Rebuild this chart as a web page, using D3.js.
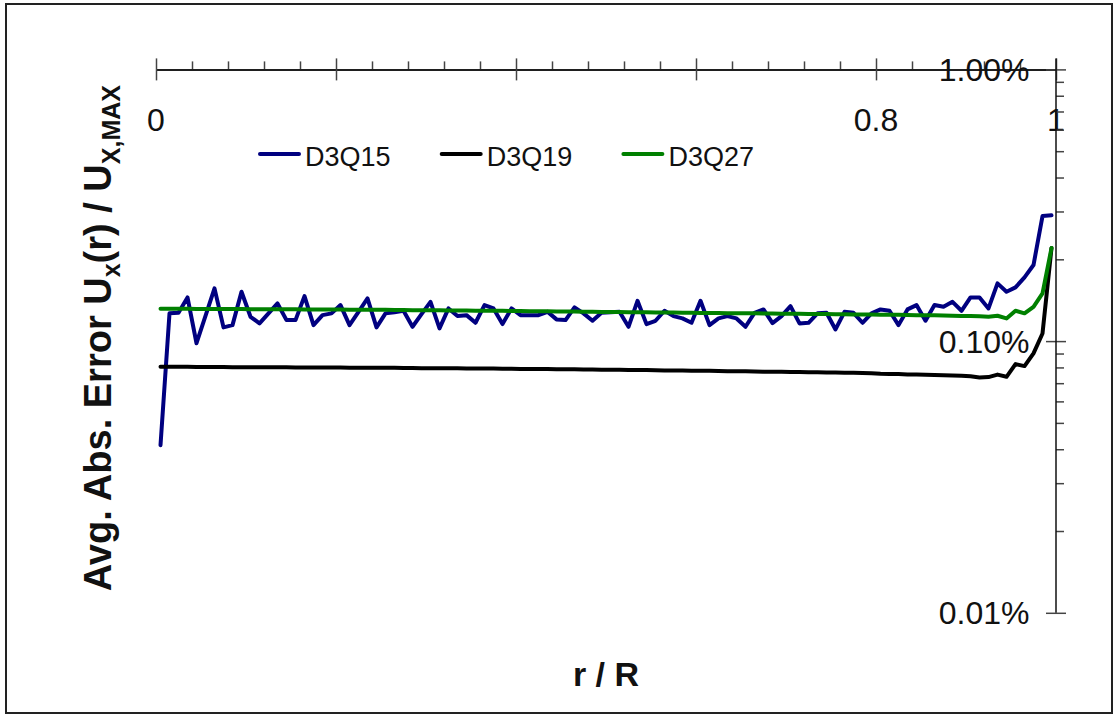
<!DOCTYPE html>
<html>
<head>
<meta charset="utf-8">
<script src="https://cdn.jsdelivr.net/npm/d3@7"></script>
<style>
  body { margin: 0; background: #fff; }
  svg text { font-family: "Liberation Sans", Arial, Helvetica, sans-serif; fill: #111; }
</style>
</head>
<body>
<div id="chart"></div>
<script>
// error in percent of U_x,max, sampled at r/R = (i + 0.5) / 100
var seriesNames = ["D3Q15", "D3Q19", "D3Q27"];
var seriesColors = ["#000080", "#000000", "#008000"];

var d3q15 = [
  0.0414, 0.1265, 0.1271, 0.1448, 0.0982, 0.1238, 0.1563, 0.1123, 0.1145, 0.1519,
  0.1229, 0.1162, 0.1265, 0.1376, 0.1195, 0.1195, 0.1464, 0.1145, 0.1246, 0.1265,
  0.1357, 0.1145, 0.1282, 0.1436, 0.1123, 0.1265, 0.1278, 0.1293, 0.1129, 0.1257,
  0.1395, 0.1114, 0.1319, 0.1236, 0.1246, 0.1168, 0.1357, 0.1319, 0.1155, 0.1319,
  0.1246, 0.1246, 0.1246, 0.1282, 0.1202, 0.1195, 0.1330, 0.1265, 0.1188, 0.1271,
  0.1278, 0.1282, 0.1129, 0.1407, 0.1155, 0.1188, 0.1293, 0.1236, 0.1212, 0.1168,
  0.1407, 0.1145, 0.1212, 0.1236, 0.1212, 0.1129, 0.1271, 0.1308, 0.1165, 0.1236,
  0.1345, 0.1162, 0.1168, 0.1265, 0.1271, 0.1104, 0.1282, 0.1271, 0.1168, 0.1265,
  0.1308, 0.1293, 0.1145, 0.1308, 0.1357, 0.1188, 0.1357, 0.1337, 0.1395, 0.1293,
  0.1448, 0.1448, 0.1319, 0.1631, 0.1519, 0.1576, 0.1716, 0.1905, 0.2886, 0.2903
];

var d3q19 = [
  0.0804, 0.0804, 0.0804, 0.0804, 0.0803, 0.0803, 0.0803, 0.0803, 0.0802, 0.0802,
  0.0802, 0.0802, 0.0801, 0.0801, 0.0801, 0.0800, 0.0800, 0.0800, 0.0799, 0.0799,
  0.0799, 0.0798, 0.0798, 0.0798, 0.0797, 0.0797, 0.0797, 0.0796, 0.0796, 0.0795,
  0.0795, 0.0795, 0.0794, 0.0794, 0.0793, 0.0793, 0.0792, 0.0792, 0.0791, 0.0791,
  0.0790, 0.0790, 0.0789, 0.0789, 0.0788, 0.0787, 0.0787, 0.0786, 0.0786, 0.0785,
  0.0784, 0.0784, 0.0783, 0.0782, 0.0782, 0.0781, 0.0780, 0.0780, 0.0779, 0.0778,
  0.0778, 0.0777, 0.0776, 0.0775, 0.0775, 0.0774, 0.0773, 0.0772, 0.0772, 0.0771,
  0.0770, 0.0769, 0.0768, 0.0768, 0.0767, 0.0766, 0.0765, 0.0764, 0.0763, 0.0762,
  0.0758, 0.0757, 0.0756, 0.0754, 0.0753, 0.0752, 0.0750, 0.0749, 0.0747, 0.0746,
  0.0742, 0.0735, 0.0737, 0.0753, 0.0739, 0.0823, 0.0809, 0.0901, 0.1067, 0.2200
];

var d3q27 = [
  0.1316, 0.1316, 0.1315, 0.1315, 0.1314, 0.1314, 0.1313, 0.1313, 0.1312, 0.1312,
  0.1311, 0.1311, 0.1310, 0.1310, 0.1309, 0.1309, 0.1308, 0.1308, 0.1307, 0.1306,
  0.1306, 0.1305, 0.1305, 0.1304, 0.1303, 0.1303, 0.1302, 0.1301, 0.1300, 0.1300,
  0.1299, 0.1298, 0.1297, 0.1296, 0.1295, 0.1294, 0.1294, 0.1293, 0.1292, 0.1291,
  0.1290, 0.1289, 0.1288, 0.1287, 0.1286, 0.1285, 0.1284, 0.1283, 0.1282, 0.1281,
  0.1280, 0.1279, 0.1278, 0.1277, 0.1276, 0.1275, 0.1274, 0.1273, 0.1272, 0.1271,
  0.1270, 0.1269, 0.1268, 0.1267, 0.1267, 0.1266, 0.1265, 0.1264, 0.1263, 0.1262,
  0.1261, 0.1260, 0.1259, 0.1258, 0.1257, 0.1256, 0.1255, 0.1254, 0.1253, 0.1252,
  0.1251, 0.1250, 0.1249, 0.1248, 0.1246, 0.1245, 0.1244, 0.1242, 0.1240, 0.1238,
  0.1236, 0.1234, 0.1230, 0.1240, 0.1212, 0.1293, 0.1265, 0.1337, 0.1498, 0.2200
];

var xTickLabels = [[0, "0"], [0.8, "0.8"], [1, "1"]];
var yTickLabels = [[1, "1.00%"], [0.1, "0.10%"], [0.01, "0.01%"]];

var dim = {
    width: 1118, height: 717,
    plot: { left: 156, right: 1056, top: 69.4, bottom: 612.8 }
};

var x = d3.scaleLinear().domain([0, 1]).range([dim.plot.left, dim.plot.right]);
var y = d3.scaleLog().domain([0.01, 1]).range([dim.plot.bottom, dim.plot.top]);

var svg = d3.select("#chart").append("svg")
        .attr("width", dim.width)
        .attr("height", dim.height);

// frame
svg.append("rect")
        .attr("x", 6).attr("y", 4)
        .attr("width", 1106).attr("height", 709)
        .attr("fill", "none")
        .attr("stroke", "#222")
        .attr("stroke-width", 2);

// x axis along the top
var xMajor = d3.range(0, 1.0001, 0.2);
var xMinor = d3.range(0, 1.0001, 0.04).filter(function(d) {
    return Math.abs(d / 0.2 - Math.round(d / 0.2)) > 1e-6;
});

var xAxisG = svg.append("g").attr("transform", "translate(0," + dim.plot.top + ")");
xAxisG.append("g").call(d3.axisTop(x).tickValues(xMinor).tickSize(8).tickSizeOuter(0).tickFormat(""));
xAxisG.append("g").call(d3.axisTop(x).tickValues(xMajor).tickSize(11).tickSizeOuter(0).tickFormat(""));
xAxisG.append("g").call(d3.axisBottom(x).tickValues(xMajor).tickSize(11).tickSizeOuter(0).tickFormat(""))
        .select(".domain").remove();

xAxisG.selectAll("path.domain").attr("stroke", "#111").attr("stroke-width", 1.5);
xAxisG.selectAll(".tick line").attr("stroke", "#444").attr("stroke-width", 1.5);

svg.selectAll("text.xlab").data(xTickLabels).enter()
    .append("text")
        .attr("class", "xlab")
        .attr("x", function(d) { return x(d[0]); })
        .attr("y", 131)
        .attr("text-anchor", "middle")
        .style("font-size", "32px")
        .text(function(d) { return d[1]; });

// y axis on the right, log scale
var yMajor = [0.01, 0.1, 1];
var yMinor = [];
[0.01, 0.1].forEach(function(dec) {
    for (var k = 2; k <= 9; k++) yMinor.push(dec * k);
});

var yAxisG = svg.append("g").attr("transform", "translate(" + dim.plot.right + ",0)");
yAxisG.append("g").call(d3.axisRight(y).tickValues(yMinor).tickSize(8).tickSizeOuter(0).tickFormat(""))
        .select(".domain").remove();
yAxisG.append("g").call(d3.axisRight(y).tickValues(yMajor).tickSize(10).tickSizeOuter(0).tickFormat(""))
        .select(".domain").remove();
yAxisG.append("g").call(d3.axisLeft(y).tickValues(yMajor).tickSize(10).tickSizeOuter(0).tickFormat(""))
        .select(".domain").remove();
yAxisG.append("line")
        .attr("x1", 0).attr("x2", 0)
        .attr("y1", dim.plot.top - 11).attr("y2", y(0.01))
        .attr("stroke", "#111").attr("stroke-width", 1.5);
yAxisG.selectAll(".tick line").attr("stroke", "#444").attr("stroke-width", 1.5);

svg.selectAll("text.ylab").data(yTickLabels).enter()
    .append("text")
        .attr("class", "ylab")
        .attr("x", dim.plot.right - 26.5)
        .attr("y", function(d) { return y(d[0]) + 11.5; })
        .attr("text-anchor", "end")
        .style("font-size", "32px")
        .text(function(d) { return d[1]; });

// series
var rGrid = d3q15.map(function(d, i) { return (i + 0.5) / 100; });
var line = d3.line()
        .x(function(d, i) { return x(rGrid[i]); })
        .y(function(d) { return y(d); });

[d3q15, d3q19, d3q27].forEach(function(s, k) {
    svg.append("path")
            .datum(s)
            .attr("d", line)
            .attr("fill", "none")
            .attr("stroke", seriesColors[k])
            .attr("stroke-width", 4)
            .attr("stroke-linejoin", "round")
            .attr("stroke-linecap", "round");
});

// legend
var legend = svg.selectAll("g.legend").data(seriesNames).enter()
    .append("g")
        .attr("class", "legend")
        .attr("transform", function(d, i) { return "translate(" + (260 + i * 181.7) + ",154)"; });
legend.append("line")
        .attr("x1", 0).attr("x2", 39)
        .attr("stroke", function(d, i) { return seriesColors[i]; })
        .attr("stroke-width", 4)
        .attr("stroke-linecap", "round");
legend.append("text")
        .attr("x", 45).attr("y", 11.5)
        .style("font-size", "27px")
        .text(function(d) { return d; });

// axis titles
svg.append("text")
        .attr("x", (dim.plot.left + dim.plot.right) / 2)
        .attr("y", 686)
        .attr("text-anchor", "middle")
        .style("font-size", "34px")
        .style("font-weight", "bold")
        .text("r / R");

var yTitle = svg.append("text")
        .attr("transform", "translate(111," + ((dim.plot.top + dim.plot.bottom) / 2 - 3) + ") rotate(-90)")
        .attr("text-anchor", "middle")
        .style("font-size", "38px")
        .style("font-weight", "bold");
yTitle.append("tspan").text("Avg. Abs. Error U");
yTitle.append("tspan").attr("dy", 9).style("font-size", "25px").text("x");
yTitle.append("tspan").attr("dy", -9).text("(r) / U");
yTitle.append("tspan").attr("dy", 9).style("font-size", "25px").text("X,MAX");
</script>
</body>
</html>
